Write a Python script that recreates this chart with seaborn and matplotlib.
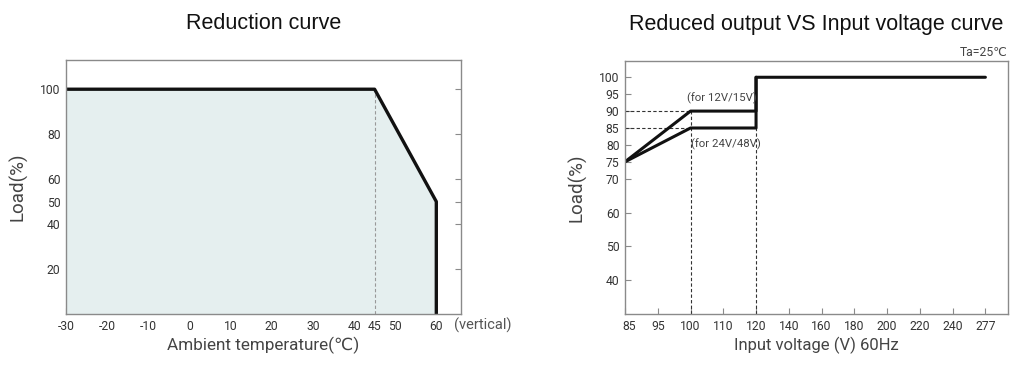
import numpy as np
import pandas as pd
import matplotlib
matplotlib.use("Agg")
import matplotlib.pyplot as plt
import matplotlib.transforms as mtransforms
import seaborn as sns

# ---------------- data ----------------
temp_x = [-30, 45, 60, 60]
temp_load = [100, 100, 50, 0]
temp_ticks = [-30, -20, -10, 0, 10, 20, 30, 40, 45, 50, 60]
temp_yticks = [20, 40, 50, 60, 80, 100]

volt_hi_x = [85, 100, 120, 120, 277]
volt_hi_load = [75, 90, 90, 100, 100]
volt_lo_x = [85, 100, 120, 120]
volt_lo_load = [75, 85, 85, 100]
volt_ticks = [85, 95, 100, 110, 120, 140, 160, 180, 200, 220, 240, 277]
volt_yticks = [40, 50, 60, 70, 75, 80, 85, 90, 95, 100]

# ---------------- style ----------------
sns.set_theme(style="white")
plt.rcParams['font.family'] = ['Liberation Sans', 'DejaVu Sans']
plt.rcParams['axes.unicode_minus'] = False

SPINE = "#8a8a8a"
TXT = "#333333"
TICKFAM = ['Roboto', 'DejaVu Sans']

fig = plt.figure(figsize=(10.24, 3.70), dpi=100)
ax1 = fig.add_axes([66/1024, 56/370, 395/1024, 254/370])
ax2 = fig.add_axes([625/1024, 56/370, 383/1024, 253.3/370])

def style_axes(ax, right_ticks):
    for s in ax.spines.values():
        s.set_color(SPINE)
        s.set_linewidth(1.0)
    ax.tick_params(direction='in', length=4, width=0.8, color=SPINE,
                   labelcolor=TXT, pad=4, right=right_ticks, left=True, bottom=True)
    for lab in ax.get_xticklabels() + ax.get_yticklabels():
        lab.set_fontfamily(TICKFAM)
        lab.set_fontsize(8.7)

# ---------------- left: reduction curve ----------------
df1 = pd.DataFrame({'x': temp_x, 'y': temp_load})
ax1.fill_between(temp_x, temp_load, 0, color="#e5efef", lw=0)
ax1.plot([45, 45], [0, 100], ls=(0, (3, 2)), color="#999999", lw=0.8)
sns.lineplot(data=df1, x='x', y='y', sort=False, ax=ax1, color="#111111",
             lw=2.4, estimator=None)
ax1.set_xlim(-30, 66)
ax1.set_ylim(0, 113)
ax1.set_xticks(temp_ticks)
ax1.set_xticklabels([str(t) for t in temp_ticks])
ax1.set_yticks(temp_yticks)
ax1.set_yticklabels([str(t) for t in temp_yticks])
style_axes(ax1, True)
ax1.set_xlabel("Ambient temperature(℃)", fontsize=12.3, color="#444444", labelpad=3,
               family=TICKFAM)
ax1.set_ylabel("Load(%)", fontsize=13.5, color="#444444", labelpad=9,
               family=TICKFAM)
ax1.set_title("Reduction curve", fontsize=15.5, color="#111111", pad=22)
trans1 = mtransforms.blended_transform_factory(ax1.transData, ax1.transAxes)
ax1.text(64.3, -0.015, "(vertical)", transform=trans1, ha='left', va='top',
         fontsize=10.5, color="#555555", family=TICKFAM)

# ---------------- right: input voltage curve ----------------
ext = volt_ticks + [volt_ticks[-1] + (volt_ticks[-1] - volt_ticks[-2])]
idx = np.arange(len(ext), dtype=float)

def fwd(v):
    return np.interp(v, ext, idx)

def inv(p):
    return np.interp(p, idx, ext)

ax2.set_xscale('function', functions=(fwd, inv))
dash = dict(ls=(0, (3, 2)), color="#333333", lw=0.8)
ax2.plot([85, 100], [90, 90], **dash)
ax2.plot([85, 100], [85, 85], **dash)
ax2.plot([100, 100], [30, 90], **dash)
ax2.plot([120, 120], [30, 85], **dash)
df_hi = pd.DataFrame({'x': volt_hi_x, 'y': volt_hi_load})
df_lo = pd.DataFrame({'x': volt_lo_x, 'y': volt_lo_load})
sns.lineplot(data=df_hi, x='x', y='y', sort=False, ax=ax2, color="#111111",
             lw=2.2, estimator=None)
sns.lineplot(data=df_lo, x='x', y='y', sort=False, ax=ax2, color="#111111",
             lw=2.2, estimator=None)
ax2.set_xlim(85, inv(11.69))
ax2.set_ylim(30, 104.9)
ax2.set_xticks(volt_ticks)
ax2.set_xticklabels([str(t) for t in volt_ticks])
ax2.xaxis.set_minor_locator(matplotlib.ticker.NullLocator())
ax2.set_yticks(volt_yticks)
ax2.set_yticklabels([str(t) for t in volt_yticks])
style_axes(ax2, False)
first = ax2.get_xticklabels()[0]
first.set_transform(first.get_transform() +
                    mtransforms.ScaledTranslation(4/100, 0, fig.dpi_scale_trans))
ax2.set_xlabel("Input voltage (V) 60Hz", fontsize=12, color="#444444", labelpad=3,
               family=TICKFAM)
ax2.set_ylabel("Load(%)", fontsize=13.5, color="#444444", labelpad=9,
               family=TICKFAM)
ax2.set_title("Reduced output VS Input voltage curve", fontsize=15.5, color="#111111", pad=22)
ax2.text(99.5, 93.8, "(for 12V/15V)", ha='left', va='center', fontsize=8.2,
         color="#444444", family=TICKFAM)
ax2.text(100, 80.3, "(for 24V/48V)", ha='left', va='center', fontsize=8.2,
         color="#444444", family=TICKFAM)
ax2.text(0.998, 1.005, "Ta=25℃", transform=ax2.transAxes, ha='right', va='bottom',
         fontsize=8.7, color="#444444", family=TICKFAM)

fig.savefig("out.png", dpi=100)
